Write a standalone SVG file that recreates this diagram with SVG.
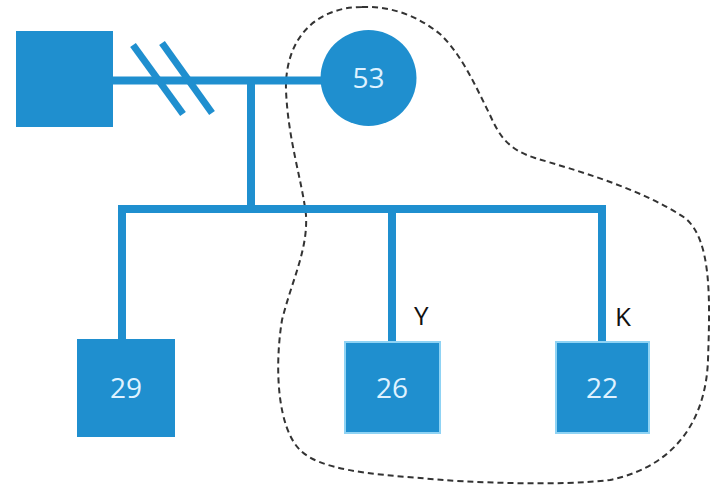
<svg xmlns="http://www.w3.org/2000/svg" width="710" height="489" viewBox="0 0 710 489">
  <style>
    .line { stroke: #1f8fcf; stroke-width: 8; fill: none; stroke-linecap: butt; }
    .mark { stroke: #1f8fcf; stroke-width: 7; fill: none; stroke-linecap: butt; }
    .male { fill: #1f8fcf; }
    .outlined { stroke: #8fd3f4; stroke-width: 2; }
    .age { font-family: "Open Sans", "Liberation Sans", sans-serif; font-size: 28px; fill: #dff2ff; text-anchor: middle; }
    .tag { font-family: "Open Sans", "Liberation Sans", sans-serif; font-size: 26px; fill: #111; }
    .household { fill: none; stroke: #333; stroke-width: 2; stroke-dasharray: 6 4; }
  </style>
  <rect width="710" height="489" fill="#ffffff"/>

  <!-- household boundary -->
  <path class="household" d="M 362 7 C 395 6, 420 18, 440 34 C 462 55, 475 85, 490 115 C 500 138, 510 150, 535 158 C 575 170, 640 188, 685 218 C 712 240, 710 300, 708 360 C 706 415, 680 465, 610 480 C 560 486, 470 483, 420 478 C 370 474, 320 470, 300 450 C 278 428, 274 370, 282 320 C 292 280, 308 250, 306 215 C 302 180, 288 140, 286 90 C 285 55, 300 25, 330 13 C 340 9, 350 7, 362 7 Z"/>

  <g id="connectors">
    <!-- partnership line -->
    <line class="line" x1="113" y1="80.5" x2="322" y2="80.5"/>
    <!-- separation marks -->
    <line class="mark" x1="133" y1="45" x2="183" y2="114"/>
    <line class="mark" x1="162" y1="43" x2="212" y2="113"/>
    <!-- line of descent -->
    <line class="line" x1="251" y1="80" x2="251" y2="209"/>
    <!-- sibship line -->
    <line class="line" x1="118" y1="209" x2="606" y2="209"/>
    <line class="line" x1="122" y1="205" x2="122" y2="340"/>
    <line class="line" x1="392" y1="209" x2="392" y2="342"/>
    <line class="line" x1="602" y1="209" x2="602" y2="342"/>
  </g>

  <g id="father">
    <rect class="male" x="16" y="31" width="97" height="96"/>
  </g>

  <g id="mother">
    <circle cx="368.5" cy="78" r="48" fill="#1f8fcf"/>
    <text class="age" x="368.5" y="88">53</text>
  </g>

  <g id="son-29">
    <rect class="male" x="77" y="339" width="98" height="98"/>
    <text class="age" x="126" y="398">29</text>
  </g>

  <g id="son-26">
    <rect class="male outlined" x="345" y="342" width="95" height="91"/>
    <text class="age" x="392" y="398">26</text>
    <text class="tag" x="414" y="325">Y</text>
  </g>

  <g id="son-22">
    <rect class="male outlined" x="556" y="342" width="93" height="91"/>
    <text class="age" x="602" y="398">22</text>
    <text class="tag" x="615" y="326">K</text>
  </g>
</svg>
